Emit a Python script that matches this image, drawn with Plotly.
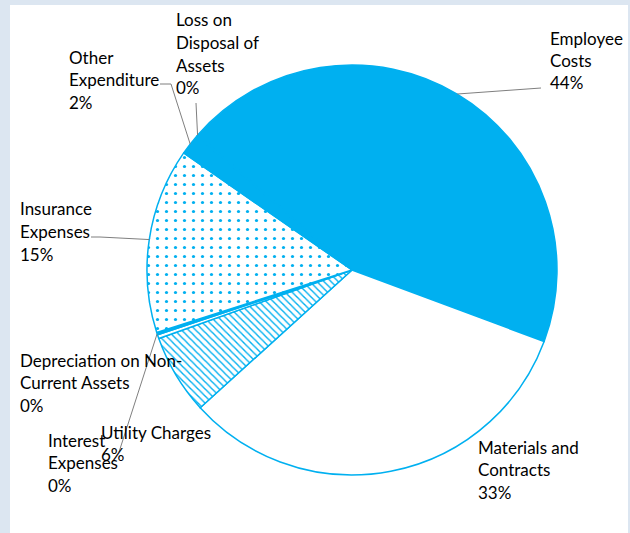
import math
import plotly.graph_objects as go

# ---- data ----
categories = ["Employee Costs", "Materials and Contracts", "Utility Charges",
              "Depreciation on Non-Current Assets", "Interest Expenses",
              "Insurance Expenses", "Other Expenditure", "Loss on Disposal of Assets"]
values = [44.2, 32.6, 6.3, 0.3, 0.2, 14.6, 1.7, 0.1]
pct_labels = ["44%", "33%", "6%", "0%", "0%", "15%", "2%", "0%"]
label_lines = [
    ["Employee", "Costs"],
    ["Materials and", "Contracts"],
    ["Utility Charges"],
    ["Depreciation on Non-", "Current Assets"],
    ["Interest", "Expenses"],
    ["Insurance", "Expenses"],
    ["Other", "Expenditure"],
    ["Loss on", "Disposal of", "Assets"],
]

W, H = 630, 533
BLUE = "#00b0f0"
FONT = dict(family="Lato, Open Sans, sans-serif", size=17, color="#000000")

cx, cy, R = 352, 270, 205
rotation = -48.7

shapes_pat = ["", "", "\\", "", "", ".", "", ""]
colors = [BLUE, "white", "white", "white", BLUE, "white", BLUE, BLUE]
pat_size = [8, 8, 5, 8, 8, 9, 8, 8]
pat_sol = [0.3, 0.3, 0.28, 0.3, 0.3, 0.1, 0.3, 0.3]

fig = go.Figure(go.Pie(
    labels=categories, values=values, sort=False, direction="clockwise",
    rotation=rotation, textinfo="none", hoverinfo="label+percent",
    showlegend=False,
    domain=dict(x=[(cx - R) / W, (cx + R) / W], y=[1 - (cy + R) / H, 1 - (cy - R) / H]),
    marker=dict(colors=colors, line=dict(color=BLUE, width=1.5),
                pattern=dict(shape=shapes_pat, fgcolor=BLUE, bgcolor="white",
                             size=pat_size, solidity=pat_sol, fillmode="replace")),
))

def px(x):
    return x / W

def py(y):
    return 1 - y / H

# mid angles from data
total = sum(values)
mid = []
acc = rotation
for v in values:
    span = 360 * v / total
    mid.append(acc + span / 2)
    acc += span

def edge(i):
    a = math.radians(mid[i])
    return cx + R * math.sin(a), cy - R * math.cos(a)

# label layout: (left x, first line center y)
label_pos = {
    0: (548, 38),
    1: (476, 447),
    2: (99, 432),
    3: (18, 360),
    4: (46, 440),
    5: (18, 209),
    6: (67, 57),
    7: (174, 20),
}
LH = 22.5
annotations = []
for i, (lx, ly) in label_pos.items():
    lines = label_lines[i] + [pct_labels[i]]
    for k, t in enumerate(lines):
        annotations.append(dict(x=px(lx), y=py(ly + k * LH), xref="paper", yref="paper",
                                text=t, showarrow=False, xanchor="left", yanchor="middle",
                                font=FONT))

# leader lines: label-side points, ending at slice edge
leader_pts = {
    0: [(541, 88)],
    6: [(160, 84), (171, 84)],
    7: [(196, 103)],
    5: [(91, 237), (100, 237)],
    4: [(119, 452)],
}
shapes = [dict(type="rect", xref="paper", yref="paper", x0=px(10), x1=px(628),
               y0=py(533), y1=py(5), fillcolor="white", line=dict(width=0), layer="below")]
for i, pts in leader_pts.items():
    ex, ey = edge(i)
    allp = pts + [(ex, ey)]
    path = "M " + " L ".join(f"{px(x)},{py(y)}" for x, y in allp)
    shapes.append(dict(type="path", xref="paper", yref="paper", path=path,
                       line=dict(color="#7f7f7f", width=1)))

fig.update_layout(width=W, height=H, margin=dict(l=0, r=0, t=0, b=0),
                  paper_bgcolor="#dce6f1", plot_bgcolor="white",
                  annotations=annotations, shapes=shapes)
fig.write_html("out.html", config={"displayModeBar": False},
               post_script="document.body.style.margin='0px';document.body.style.overflow='hidden';")
